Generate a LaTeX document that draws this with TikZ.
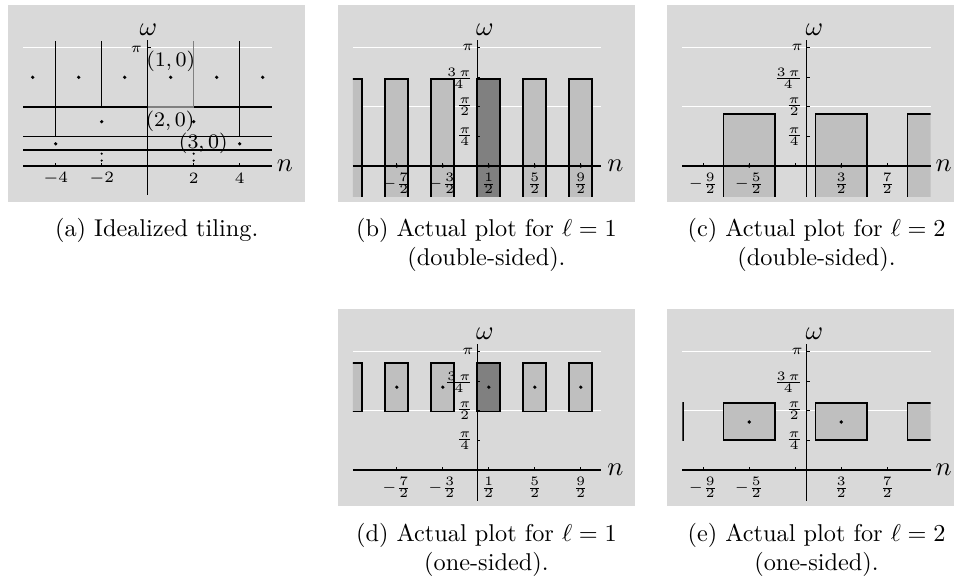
\documentclass[tikz,border=0pt]{standalone}
\usepackage{fix-cm}
\DeclareMathSizes{6}{6}{5.3}{4}
\DeclareMathSizes{6.5}{6.5}{4.6}{3.8}
\DeclareMathSizes{8.5}{8.5}{6}{5}
\DeclareMathSizes{11}{11}{8}{6}
\definecolor{panelbg}{gray}{0.85}
\definecolor{boxlight}{gray}{0.75}
\definecolor{boxdark}{gray}{0.5}
\definecolor{tilegray}{gray}{0.5}
\tikzset{
  panelbox/.style={fill=panelbg, draw=none},
  gridwhite/.style={draw=white, line width=0.5pt},
  axisline/.style={draw=black, line width=0.45pt},
  tileline/.style={draw=black, line width=0.65pt},
  tilegrayline/.style={draw=tilegray, line width=0.65pt},
  boxl/.style={fill=boxlight},
  boxd/.style={fill=boxdark},
  boxedge/.style={draw=black, line width=0.7pt},
  dotmark/.style={fill=black, draw=none},
  tickmark/.style={draw=black, line width=0.4pt},
  ticklab/.style={inner sep=0pt, font=\fontsize{6}{7}\selectfont},
  numlab/.style={inner sep=0pt, font=\fontsize{6.5}{7.5}\selectfont},
  axlab/.style={inner sep=0pt, font=\fontsize{11}{13}\selectfont},
  ptlab/.style={inner sep=0pt, font=\fontsize{8.5}{10}\selectfont},
  caption/.style={inner sep=0pt, anchor=base, font=\fontsize{10}{12}\selectfont},
  panelunits/.style={x=9.4645pt, y=48.68pt},
}
\begin{document}
\begin{tikzpicture}[x=0.4115pt, y=-0.4115pt]
\useasboundingbox (0,0) rectangle (954,577);
% panel backgrounds
\fill[panelbox] (8.3,5) rectangle (305.3,201.7);
\fill[panelbox] (337.9,5) rectangle (634.9,201.7);
\fill[panelbox] (667.3,5) rectangle (954,201.7);
\fill[panelbox] (337.9,309) rectangle (634.9,505.7);
\fill[panelbox] (667.3,309) rectangle (954,505.7);

% ================= panel (a)
\begin{scope}[shift={(147.7,166)}]
\begin{scope}[panelunits]
  \draw[gridwhite] (-5.41,1) -- (5.39,1);
  \draw[axisline] (-5.41,0) -- (5.39,0);
  \draw[axisline] (0,1.065) -- (0,-0.245);
  % tile boundaries
  \draw[tileline] (-5.41,0.5) -- (0,0.5);
  \draw[tileline] (2,0.5) -- (5.39,0.5);
  \draw[tileline] (-5.41,0.25) -- (5.39,0.25);
  \draw[tileline] (-5.41,0.135) -- (5.39,0.135);
  \draw[tileline] (-4,1.057) -- (-4,0.25);
  \draw[tileline] (-2,1.057) -- (-2,0.5);
  \draw[tileline] (4,1.057) -- (4,0.25);
  \draw[tileline] (0,1.057) -- (0,0.135);
  \draw[tilegrayline] (0,0.5) -- (2,0.5) -- (2,1.057);
  % centres
  \foreach \n in {-5,-3,-1,1,3,5} \fill[dotmark] (\n,0.75) circle[radius=0.75pt];
  \foreach \n in {-2,2} \fill[dotmark] (\n,0.375) circle[radius=0.75pt];
  \foreach \n in {-4,4} \fill[dotmark] (\n,0.1875) circle[radius=0.75pt];
  \foreach \n in {-2,2} {
    \fill[dotmark] (\n,0.104) circle[radius=0.5pt];
    \fill[dotmark] (\n,0.046) circle[radius=0.5pt];
  }
  % ticks
  \foreach \n in {-4,-2,2,4} \draw[tickmark] (\n,0) -- (\n,0.025);
  \draw[tickmark] (0,1) -- (0.13,1);
  \node[numlab] (a-tm4) at (-4,-0.104) {$-4$};
  \node[numlab] (a-tm2) at (-2,-0.104) {$-2$};
  \node[numlab] (a-t2) at (2,-0.104) {$2$};
  \node[numlab] (a-t4) at (4,-0.104) {$4$};
  \node[ticklab, anchor=east] (a-pi) at (-0.23,0.99) {$\pi$};
  \node[axlab] (a-om) at (0.03,1.15) {$\omega$};
  \node[axlab] (a-n) at (5.97,0.0) {$n$};
  \node[ptlab] (a-l1) at (1.0,0.882) {$(1,0)$};
  \node[ptlab] (a-l2) at (0.97,0.374) {$(2,0)$};
  \node[ptlab] (a-l3) at (2.42,0.192) {$(3,0)$};
\end{scope}
\end{scope}

% ================= panel (b)
\begin{scope}[shift={(477.3,166)}]
\begin{scope}[panelunits]
  \draw[gridwhite] (-5.41,1) -- (5.39,1);
  \draw[gridwhite] (-5.41,0.5) -- (5.39,0.5);
  \begin{scope}
    \clip (-5.41,1.1) rectangle (5.39,-0.26);
    \foreach \a in {-6,-4,-2,2,4} {
      \fill[boxl] (\a,-0.3) rectangle (\a+1,0.735);
      \draw[boxedge] (\a,-0.3) -- (\a,0.735) -- (\a+1,0.735) -- (\a+1,-0.3);
    }
    \fill[boxd] (0,-0.3) rectangle (1,0.735);
    \draw[boxedge] (0,-0.3) -- (0,0.735) -- (1,0.735) -- (1,-0.3);
  \end{scope}
  \draw[axisline] (-5.41,0) -- (5.39,0);
  \draw[axisline] (0,1.065) -- (0,-0.26);
  \foreach \v in {0.25,0.5,0.75,1} \draw[tickmark] (0,\v) -- (0.13,\v);
  \foreach \n in {-3.5,-1.5,0.5,2.5,4.5} {
    \draw[tickmark] (\n,0) -- (\n,0.025);
    \fill[dotmark] (\n,0) circle[radius=0.75pt];
  }
  \node[ticklab] (b-x1) at (-3.5,-0.15) {$-\frac{7}{2}$};
  \node[ticklab] (b-x2) at (-1.5,-0.15) {$-\frac{3}{2}$};
  \node[ticklab] (b-x3) at (0.5,-0.15) {$\frac{1}{2}$};
  \node[ticklab] (b-x4) at (2.5,-0.15) {$\frac{5}{2}$};
  \node[ticklab] (b-x5) at (4.5,-0.15) {$\frac{9}{2}$};
  \node[ticklab, anchor=east] (b-y4) at (-0.15,1) {$\pi$};
  \node[ticklab, anchor=east] (b-y3) at (-0.15,0.74) {$\frac{3\,\pi}{4}$};
  \node[ticklab, anchor=east] (b-y2) at (-0.15,0.5) {$\frac{\pi}{2}$};
  \node[ticklab, anchor=east] (b-y1) at (-0.15,0.25) {$\frac{\pi}{4}$};
  \node[axlab] (b-om) at (0.33,1.15) {$\omega$};
  \node[axlab] (b-n) at (6.0,0.0) {$n$};
\end{scope}
\end{scope}

% ================= panel (c)
\begin{scope}[shift={(806.7,166)}]
\begin{scope}[panelunits]
  \draw[gridwhite] (-5.41,1) -- (5.39,1);
  \draw[gridwhite] (-5.41,0.5) -- (5.39,0.5);
  \begin{scope}
    \clip (-5.41,1.1) rectangle (5.39,-0.26);
    \foreach \c in {-2.5,1.5,5.5} {
      \fill[boxl] (\c-1.122,-0.3) rectangle (\c+1.122,0.4395);
      \draw[boxedge] (\c-1.122,-0.3) -- (\c-1.122,0.4395) -- (\c+1.122,0.4395) -- (\c+1.122,-0.3);
    }
  \end{scope}
  \draw[axisline] (-5.41,0) -- (5.39,0);
  \draw[axisline] (0,1.065) -- (0,-0.26);
  \foreach \v in {0.25,0.5,0.75,1} \draw[tickmark] (0,\v) -- (0.13,\v);
  \foreach \n in {-4.5,-2.5,-0.5,1.5,3.5} \draw[tickmark] (\n,0) -- (\n,0.025);
  \foreach \n in {-2.5,1.5} \fill[dotmark] (\n,0) circle[radius=0.75pt];
  \node[ticklab] (c-x1) at (-4.5,-0.15) {$-\frac{9}{2}$};
  \node[ticklab] (c-x2) at (-2.5,-0.15) {$-\frac{5}{2}$};
  \node[ticklab] (c-x3) at (1.5,-0.15) {$\frac{3}{2}$};
  \node[ticklab] (c-x4) at (3.5,-0.15) {$\frac{7}{2}$};
  \node[ticklab, anchor=east] (c-y4) at (-0.15,1) {$\pi$};
  \node[ticklab, anchor=east] (c-y3) at (-0.15,0.74) {$\frac{3\,\pi}{4}$};
  \node[ticklab, anchor=east] (c-y2) at (-0.15,0.5) {$\frac{\pi}{2}$};
  \node[ticklab, anchor=east] (c-y1) at (-0.15,0.25) {$\frac{\pi}{4}$};
  \node[axlab] (c-om) at (0.33,1.15) {$\omega$};
  \node[axlab] (c-n) at (5.95,0.0) {$n$};
\end{scope}
\end{scope}

% ================= panel (d)
\begin{scope}[shift={(477.3,470)}]
\begin{scope}[panelunits]
  \draw[gridwhite] (-5.41,1) -- (5.39,1);
  \draw[gridwhite] (-5.41,0.5) -- (5.39,0.5);
  \begin{scope}
    \clip (-5.41,1.1) rectangle (5.39,-0.26);
    \foreach \a in {-6,-4,-2,2,4} {
      \filldraw[boxl, boxedge] (\a,0.495) rectangle (\a+1,0.905);
      \fill[dotmark] (\a+0.5,0.7) circle[radius=0.75pt];
    }
    \filldraw[boxd, boxedge] (0,0.495) rectangle (1,0.905);
    \fill[dotmark] (0.5,0.7) circle[radius=0.75pt];
  \end{scope}
  \draw[axisline] (-5.41,0) -- (5.39,0);
  \draw[axisline] (0,1.065) -- (0,-0.26);
  \foreach \v in {0.25,0.5,0.75,1} \draw[tickmark] (0,\v) -- (0.13,\v);
  \foreach \n in {-3.5,-1.5,0.5,2.5,4.5} \draw[tickmark] (\n,0) -- (\n,0.025);
  \node[ticklab] (d-x1) at (-3.5,-0.15) {$-\frac{7}{2}$};
  \node[ticklab] (d-x2) at (-1.5,-0.15) {$-\frac{3}{2}$};
  \node[ticklab] (d-x3) at (0.5,-0.15) {$\frac{1}{2}$};
  \node[ticklab] (d-x4) at (2.5,-0.15) {$\frac{5}{2}$};
  \node[ticklab] (d-x5) at (4.5,-0.15) {$\frac{9}{2}$};
  \node[ticklab, anchor=east] (d-y4) at (-0.15,1) {$\pi$};
  \node[ticklab, anchor=east] (d-y3) at (-0.15,0.74) {$\frac{3\,\pi}{4}$};
  \node[ticklab, anchor=east] (d-y2) at (-0.15,0.5) {$\frac{\pi}{2}$};
  \node[ticklab, anchor=east] (d-y1) at (-0.15,0.25) {$\frac{\pi}{4}$};
  \node[axlab] (d-om) at (0.33,1.15) {$\omega$};
  \node[axlab] (d-n) at (6.0,0.0) {$n$};
\end{scope}
\end{scope}

% ================= panel (e)
\begin{scope}[shift={(806.7,470)}]
\begin{scope}[panelunits]
  \draw[gridwhite] (-5.41,1) -- (5.39,1);
  \draw[gridwhite] (-5.41,0.5) -- (5.39,0.5);
  \begin{scope}
    \clip (-5.41,1.1) rectangle (5.39,-0.26);
    \foreach \c in {-6.5,-2.5,1.5,5.5} {
      \filldraw[boxl, boxedge] (\c-1.122,0.2536) rectangle (\c+1.122,0.5638);
      \fill[dotmark] (\c,0.406) circle[radius=0.75pt];
    }
  \end{scope}
  \draw[axisline] (-5.41,0) -- (5.39,0);
  \draw[axisline] (0,1.065) -- (0,-0.26);
  \foreach \v in {0.25,0.5,0.75,1} \draw[tickmark] (0,\v) -- (0.13,\v);
  \foreach \n in {-4.5,-2.5,-0.5,1.5,3.5} \draw[tickmark] (\n,0) -- (\n,0.025);
  \node[ticklab] (e-x1) at (-4.5,-0.15) {$-\frac{9}{2}$};
  \node[ticklab] (e-x2) at (-2.5,-0.15) {$-\frac{5}{2}$};
  \node[ticklab] (e-x3) at (1.5,-0.15) {$\frac{3}{2}$};
  \node[ticklab] (e-x4) at (3.5,-0.15) {$\frac{7}{2}$};
  \node[ticklab, anchor=east] (e-y4) at (-0.15,1) {$\pi$};
  \node[ticklab, anchor=east] (e-y3) at (-0.15,0.74) {$\frac{3\,\pi}{4}$};
  \node[ticklab, anchor=east] (e-y2) at (-0.15,0.5) {$\frac{\pi}{2}$};
  \node[ticklab, anchor=east] (e-y1) at (-0.15,0.25) {$\frac{\pi}{4}$};
  \node[axlab] (e-om) at (0.33,1.15) {$\omega$};
  \node[axlab] (e-n) at (5.95,0.0) {$n$};
\end{scope}
\end{scope}

% ================= captions
\node[caption] (cap-a) at (156.7,236) {(a) Idealized tiling.};
\node[caption] (cap-b1) at (486.4,236) {(b) Actual plot for $\ell = 1$};
\node[caption] (cap-b2) at (486.4,265) {(double-sided).};
\node[caption] (cap-c1) at (816.5,236) {(c) Actual plot for $\ell = 2$};
\node[caption] (cap-c2) at (816.5,265) {(double-sided).};
\node[caption] (cap-d1) at (486.4,541) {(d) Actual plot for $\ell = 1$};
\node[caption] (cap-d2) at (486.4,570) {(one-sided).};
\node[caption] (cap-e1) at (816.5,541) {(e) Actual plot for $\ell = 2$};
\node[caption] (cap-e2) at (816.5,570) {(one-sided).};
\end{tikzpicture}
\end{document}
